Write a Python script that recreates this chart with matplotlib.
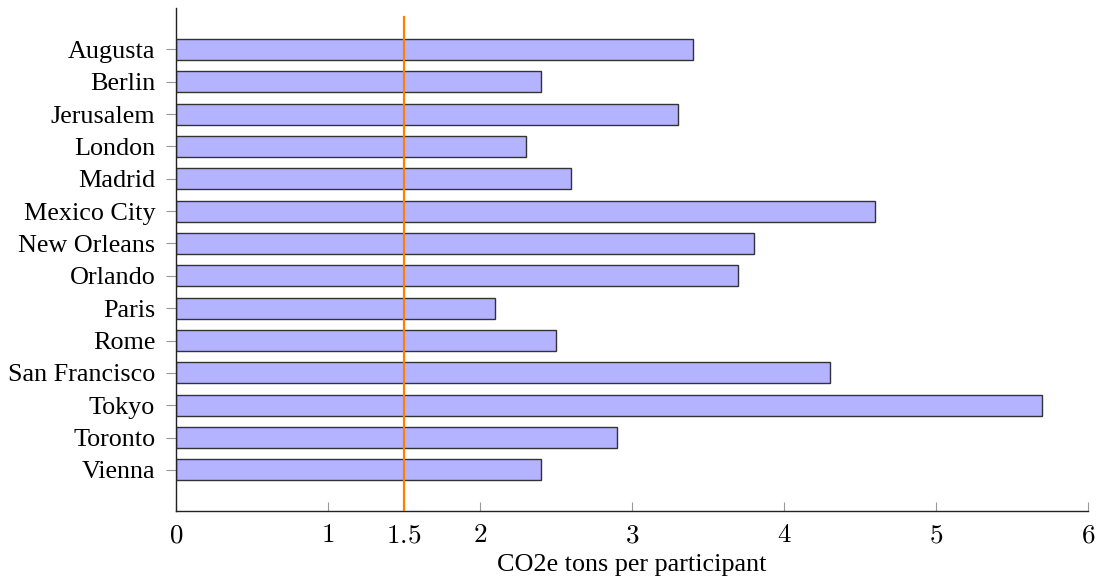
import matplotlib
matplotlib.use("Agg")
import matplotlib.pyplot as plt
import numpy as np

cities = ["Augusta", "Berlin", "Jerusalem", "London", "Madrid", "Mexico City",
          "New Orleans", "Orlando", "Paris", "Rome", "San Francisco", "Tokyo",
          "Toronto", "Vienna"]
values = [3.4, 2.4, 3.3, 2.3, 2.6, 4.6, 3.8, 3.7, 2.1, 2.5, 4.3, 5.7, 2.9, 2.4]
threshold = 1.5
xticks = [0, 1, 1.5, 2, 3, 4, 5, 6]
xticklabels = ["0", "1", "1.5", "2", "3", "4", "5", "6"]
xlabel = "CO2e tons per participant"

plt.rcParams['mathtext.fontset'] = 'cm'
serif = ['Liberation Serif', 'DejaVu Serif']

fig = plt.figure(figsize=(11, 5.82), dpi=100)
ax = fig.add_axes([176/1100, 1-511/582, (1088-176)/1100, (511-8)/582])

y = np.arange(len(cities))
ax.barh(y, values, height=0.65, color='#b3b3ff', edgecolor='#333333', linewidth=1.0, zorder=2)
ax.set_ylim(len(cities) - 1 + 1.27, -1.28)
ax.set_xlim(0, 6)

top_frac = (511 - 17) / (511 - 8)
ax.axvline(threshold, ymin=0, ymax=top_frac, color='#ff8000', linewidth=1.6, zorder=3)

ax.set_yticks(y)
ax.set_yticklabels(cities, family=serif, fontsize=18.8)
ax.set_xticks(xticks)
ax.set_xticklabels(['$' + t + '$' for t in xticklabels], fontsize=19.5)
ax.set_xlabel(xlabel, family=serif, fontsize=18.8, labelpad=4)

ax.tick_params(axis='y', direction='out', length=7, width=0.8, color='#999999', pad=8)
ax.tick_params(axis='x', direction='in', length=6.5, width=0.8, color='#999999', pad=8)

for s in ['top', 'right']:
    ax.spines[s].set_visible(False)
for s in ['left', 'bottom']:
    ax.spines[s].set_color('#222222')
    ax.spines[s].set_linewidth(1.0)

fig.savefig('out.png', dpi=100)
